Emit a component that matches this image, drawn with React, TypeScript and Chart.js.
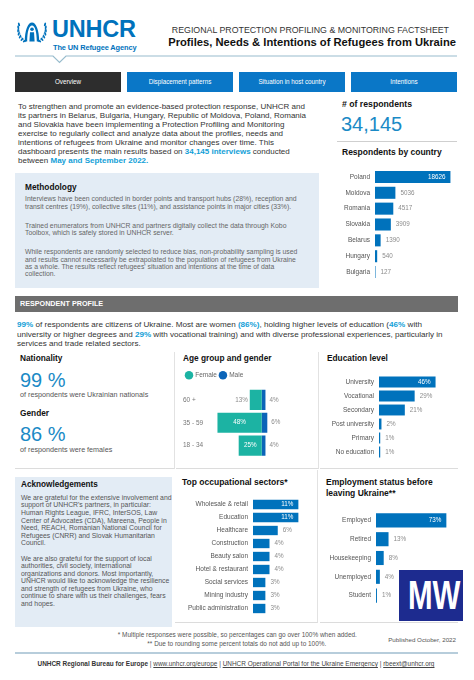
import React, { useEffect, useRef } from "react";
import { Chart, registerables } from "chart.js";
Chart.register(...registerables);

const FONT = '"Liberation Sans", Arial, Helvetica, sans-serif';
const BLUE = "#0072BC";
const TEAL_TXT = "#1a8ac6";
const HILITE = "#12a0d7";

// ---------- data ----------
const countryLabels = ["Poland", "Moldova", "Romania", "Slovakia", "Belarus", "Hungary", "Bulgaria"];
const countryValues = [18626, 5036, 4517, 3909, 1390, 540, 127];

const ageGroups = ["60 +", "35 - 59", "18 - 34"];
const femaleShare = [13, 48, 25];
const maleShare = [4, 6, 4];

const educationLabels = ["University", "Vocational", "Secondary", "Post university", "Primary", "No education"];
const educationValues = [46, 29, 21, 2, 1, 1];

const sectorLabels = [
  "Wholesale & retail",
  "Education",
  "Healthcare",
  "Construction",
  "Beauty salon",
  "Hotel & restaurant",
  "Social services",
  "Mining industry",
  "Public administration",
];
const sectorValues = [11, 11, 6, 4, 4, 4, 3, 3, 3];

const employmentLabels = ["Employed", "Retired", "Housekeeping", "Unemployed", "Student"];
const employmentValues = [73, 13, 8, 4, 1];

const navItems = ["Overview", "Displacement patterns", "Situation in host country", "Intentions"];

// ---------- charts ----------
type HBarProps = {
  labels: string[];
  values: number[];
  max: number;
  axisW: number;
  left: number;
  top: number;
  width: number;
  height: number;
  barPct: number;
  insideMin: number;
  suffix: string;
};

function HBar(p: HBarProps) {
  const ref = useRef<HTMLCanvasElement>(null);
  useEffect(() => {
    const valuePlugin = {
      id: "valueLabels",
      afterDatasetsDraw(chart: any) {
        const ctx = chart.ctx;
        const meta = chart.getDatasetMeta(0);
        ctx.save();
        ctx.font = `6.3px ${FONT}`;
        ctx.textBaseline = "middle";
        meta.data.forEach((bar: any, i: number) => {
          const v = p.values[i];
          const txt = String(v) + p.suffix;
          if (v >= p.insideMin) {
            ctx.fillStyle = "#ffffff";
            ctx.textAlign = "right";
            ctx.fillText(txt, bar.x - 5, bar.y);
          } else {
            ctx.fillStyle = "#8c8c8c";
            ctx.textAlign = "left";
            ctx.fillText(txt, bar.x + 5, bar.y);
          }
        });
        ctx.restore();
      },
    };
    const chart = new Chart(ref.current as HTMLCanvasElement, {
      type: "bar",
      data: {
        labels: p.labels,
        datasets: [
          {
            data: p.values,
            backgroundColor: BLUE,
            borderWidth: 0,
            barPercentage: p.barPct,
            categoryPercentage: 1,
          },
        ],
      },
      options: {
        indexAxis: "y",
        responsive: false,
        maintainAspectRatio: false,
        animation: false,
        layout: { padding: 0 },
        plugins: { legend: { display: false }, tooltip: { enabled: false } },
        scales: {
          x: { display: false, min: 0, max: p.max },
          y: {
            grid: { display: false, drawTicks: false },
            border: { display: false },
            ticks: { padding: 5, autoSkip: false, color: "#555", font: { family: FONT, size: 6.5 } },
            afterFit: (s: any) => {
              s.width = p.axisW;
              s.paddingTop = 0;
              s.paddingBottom = 0;
            },
          },
        },
      },
      plugins: [valuePlugin],
    } as any);
    return () => chart.destroy();
  }, []);
  return (
    <canvas
      ref={ref}
      width={p.width}
      height={p.height}
      style={{ position: "absolute", left: p.left, top: p.top, width: p.width, height: p.height }}
    />
  );
}

function AgeChart() {
  const ref = useRef<HTMLCanvasElement>(null);
  useEffect(() => {
    const labelPlugin = {
      id: "ageLabels",
      afterDatasetsDraw(chart: any) {
        const ctx = chart.ctx;
        ctx.save();
        ctx.font = `6.3px ${FONT}`;
        ctx.textBaseline = "middle";
        chart.getDatasetMeta(0).data.forEach((bar: any, i: number) => {
          const v = femaleShare[i];
          if (v >= 20) {
            ctx.fillStyle = "#ffffff";
            ctx.textAlign = "center";
            ctx.fillText(v + "%", (bar.x + bar.base) / 2, bar.y);
          } else {
            ctx.fillStyle = "#8c8c8c";
            ctx.textAlign = "right";
            ctx.fillText(v + "%", bar.x - 2, bar.y);
          }
        });
        chart.getDatasetMeta(1).data.forEach((bar: any, i: number) => {
          ctx.fillStyle = "#8c8c8c";
          ctx.textAlign = "left";
          ctx.fillText(maleShare[i] + "%", bar.x + 4, bar.y);
        });
        ctx.restore();
      },
    };
    const chart = new Chart(ref.current as HTMLCanvasElement, {
      type: "bar",
      data: {
        labels: ageGroups,
        datasets: [
          {
            label: "Female",
            data: femaleShare.map((v) => -v),
            backgroundColor: "#1cb3a3",
            borderWidth: 0,
            barPercentage: 0.88,
            categoryPercentage: 1,
          },
          {
            label: "Male",
            data: maleShare,
            backgroundColor: "#0b64b8",
            borderWidth: 0,
            barPercentage: 0.88,
            categoryPercentage: 1,
          },
        ],
      },
      options: {
        indexAxis: "y",
        responsive: false,
        maintainAspectRatio: false,
        animation: false,
        layout: { padding: 0 },
        plugins: {
          tooltip: { enabled: false },
          legend: {
            display: true,
            position: "top",
            align: "start",
            labels: {
              usePointStyle: true,
              pointStyle: "circle",
              boxWidth: 6,
              boxHeight: 6,
              padding: 3,
              color: "#666",
              font: { family: FONT, size: 6.5 },
            },
          },
        },
        scales: {
          x: { display: false, stacked: true, min: -55, max: 62 },
          y: {
            stacked: true,
            grid: { display: false, drawTicks: false },
            border: { display: false },
            ticks: { crossAlign: "far", padding: 0, color: "#777", font: { family: FONT, size: 6.5 } },
            afterFit: (s: any) => {
              s.width = 28;
              s.paddingTop = 0;
              s.paddingBottom = 0;
            },
          },
        },
      },
      plugins: [labelPlugin],
    } as any);
    return () => chart.destroy();
  }, []);
  return (
    <canvas
      ref={ref}
      width={136}
      height={88}
      style={{ position: "absolute", left: 183, top: 369, width: 136, height: 88 }}
    />
  );
}

// ---------- text helpers ----------
type TxtProps = {
  x?: number;
  right?: number;
  cx?: number;
  cy: number;
  size: number;
  bold?: boolean;
  color?: string;
  children: React.ReactNode;
  style?: React.CSSProperties;
};

function Txt({ x, right, cx, cy, size, bold, color, children, style }: TxtProps) {
  const s: React.CSSProperties = {
    position: "absolute",
    top: cy - size * 0.52,
    fontSize: size,
    lineHeight: `${size}px`,
    fontWeight: bold ? 700 : 400,
    color: color || "#333",
    whiteSpace: "nowrap",
    fontFamily: FONT,
    ...style,
  };
  if (cx !== undefined) {
    s.left = cx - 250;
    s.width = 500;
    s.textAlign = "center";
  } else if (right !== undefined) {
    s.right = 474 - right;
    s.textAlign = "right";
  } else {
    s.left = x;
  }
  return <div style={s}>{children}</div>;
}

function Lines({
  x,
  cy0,
  lineH,
  size,
  color,
  lines,
}: {
  x: number;
  cy0: number;
  lineH: number;
  size: number;
  color: string;
  lines: React.ReactNode[];
}) {
  return (
    <div
      style={{
        position: "absolute",
        left: x,
        top: cy0 - lineH / 2,
        fontSize: size,
        lineHeight: `${lineH}px`,
        color,
        fontFamily: FONT,
        whiteSpace: "nowrap",
      }}
    >
      {lines.map((l, i) => (
        <div key={i} style={{ height: lineH }}>
          {l}
        </div>
      ))}
    </div>
  );
}

const H = ({ children }: { children: React.ReactNode }) => (
  <span style={{ color: HILITE, fontWeight: 700 }}>{children}</span>
);

function Logo() {
  const leaves: [number, number, number][] = [
    [9.5, 21, -35],
    [7, 19.3, -48],
    [5, 16.8, -62],
    [3.7, 13.8, -74],
    [3.1, 10.6, -86],
    [3.2, 7.4, -98],
    [4, 4.4, -112],
  ];
  const branch = (
    <g fill={BLUE}>
      <path d="M11 22 Q3 17 3.5 3" stroke={BLUE} strokeWidth={0.6} fill="none" />
      {leaves.map(([lx, ly, r], i) => (
        <ellipse key={i} cx={lx} cy={ly} rx={1.9} ry={0.9} transform={`rotate(${r} ${lx} ${ly})`} />
      ))}
    </g>
  );
  return (
    <svg width={34} height={24} viewBox="0 0 34 24" style={{ position: "absolute", left: 15, top: 20 }}>
      {branch}
      <g transform="translate(34,0) scale(-1,1)">{branch}</g>
      <path
        d="M9.8 21.5 C9.8 10 13 2.5 17 2.5 C21 2.5 24.2 10 24.2 21.5 L21.8 21.5 C21.8 12 20 5.4 17 5.4 C14 5.4 12.2 12 12.2 21.5 Z"
        fill={BLUE}
      />
      <circle cx={17} cy={9.3} r={1.8} fill={BLUE} />
      <path d="M15 12.2 L19 12.2 L19.6 21.5 L14.4 21.5 Z" fill={BLUE} />
    </svg>
  );
}

export default function App() {
  useEffect(() => {
    document.body.style.margin = "0";
  }, []);

  const card = (left: number, top: number, w: number, h: number, right: boolean): React.CSSProperties => ({
    position: "absolute",
    left,
    top,
    width: w,
    height: h,
    borderBottom: "1px solid #dcdcdc",
    borderRight: right ? "1px solid #e2e2e2" : "none",
    boxSizing: "border-box",
  });

  return (
    <div
      style={{
        position: "absolute",
        left: 0,
        top: 0,
        width: 474,
        height: 680,
        background: "#ffffff",
        overflow: "hidden",
        fontFamily: FONT,
      }}
    >
      {/* Header */}
      <Logo />
      <Txt x={52} cy={30.5} size={23.5} bold color={BLUE} style={{ letterSpacing: -0.2 }}>
        UNHCR
      </Txt>
      <Txt x={53} cy={48} size={7.4} bold color={BLUE} style={{ letterSpacing: -0.1 }}>
        The UN Refugee Agency
      </Txt>
      <Txt right={449} cy={31} size={8.8} color="#333">
        REGIONAL PROTECTION PROFILING &amp; MONITORING FACTSHEET
      </Txt>
      <Txt right={456} cy={43} size={11.2} bold color="#111">
        Profiles, Needs &amp; Intentions of Refugees from Ukraine
      </Txt>
      <svg width={474} height={70} style={{ position: "absolute", left: 0, top: 0 }}>
        <polyline
          points="15,56 53,56 59.5,62.5 66,56 457,56"
          fill="none"
          stroke="#98bccd"
          strokeWidth={1.2}
        />
      </svg>

      {/* Nav */}
      {navItems.map((t, i) => {
        const lefts = [15, 127, 239, 351];
        return (
          <div
            key={t}
            style={{
              position: "absolute",
              left: lefts[i],
              top: 72,
              width: 106,
              height: 20,
              background: i === 0 ? "#2d2d2d" : "#0a77c7",
              color: "#fff",
              fontSize: 6.3,
              lineHeight: "20px",
              textAlign: "center",
              fontFamily: FONT,
            }}
          >
            {t}
          </div>
        );
      })}

      {/* Intro */}
      <Lines
        x={18}
        cy0={106.7}
        lineH={9}
        size={8}
        color="#333"
        lines={[
          "To strengthen and promote an evidence-based protection response, UNHCR and",
          "its partners in Belarus, Bulgaria, Hungary, Republic of Moldova, Poland, Romania",
          "and Slovakia have been implementing a Protection Profiling and Monitoring",
          "exercise to regularly collect and analyze data about the profiles, needs and",
          "intentions of refugees from Ukraine and monitor changes over time. This",
          <>
            dashboard presents the main results based on <H>34,145 interviews</H> conducted
          </>,
          <>
            between <H>May and September 2022.</H>
          </>,
        ]}
      />

      {/* Methodology */}
      <div style={{ position: "absolute", left: 15, top: 173, width: 304, height: 115, background: "#e3ecf5" }} />
      <Txt x={25} cy={187.7} size={8.3} bold color="#111">
        Methodology
      </Txt>
      <Lines
        x={25}
        cy0={199}
        lineH={7.3}
        size={6.85}
        color="#666"
        lines={[
          "Interviews have been conducted in border points and transport hubs (28%), reception and",
          "transit centres (19%), collective sites (11%), and assistance points in major cities (33%).",
        ]}
      />
      <Lines
        x={25}
        cy0={225.3}
        lineH={7.3}
        size={6.85}
        color="#666"
        lines={[
          "Trained enumerators from UNHCR and partners digitally collect the data through Kobo",
          "Toolbox, which is safely stored in UNHCR server.",
        ]}
      />
      <Lines
        x={25}
        cy0={252}
        lineH={7.3}
        size={6.85}
        color="#666"
        lines={[
          "While respondents are randomly selected to reduce bias, non-probability sampling is used",
          "and results cannot necessarily be extrapolated to the population of refugees from Ukraine",
          "as a whole. The results reflect refugees' situation and intentions at the time of data",
          "collection.",
        ]}
      />

      {/* Right column */}
      <Txt x={342} cy={105} size={8.7} bold color="#111">
        # of respondents
      </Txt>
      <Txt x={341} cy={124} size={20} color={TEAL_TXT}>
        34,145
      </Txt>
      <div style={{ position: "absolute", left: 337, top: 141, width: 120, height: 1, background: "#cfcfcf" }} />
      <Txt x={342} cy={152.3} size={8.5} bold color="#111">
        Respondents by country
      </Txt>
      <HBar
        labels={countryLabels}
        values={countryValues}
        max={20000}
        axisW={40}
        left={335}
        top={169}
        width={121}
        height={111}
        barPct={0.76}
        insideMin={10000}
        suffix=""
      />

      {/* Respondent profile */}
      <div style={{ position: "absolute", left: 15, top: 296, width: 443, height: 16, background: "#6e6e6e" }} />
      <Txt x={20} cy={304} size={7.2} bold color="#fff">
        RESPONDENT PROFILE
      </Txt>
      <Lines
        x={17}
        cy0={325}
        lineH={9.5}
        size={8.1}
        color="#333"
        lines={[
          <>
            <H>99%</H> of respondents are citizens of Ukraine. Most are women <H>(86%)</H>, holding higher levels of
            education (<H>46%</H> with
          </>,
          <>
            university or higher degrees and <H>29%</H> with vocational training) and with diverse professional
            experiences, particularly in
          </>,
          "services and trade related sectors.",
        ]}
      />

      <div style={card(15, 352, 160, 117, true)} />
      <div style={card(176, 352, 143, 117, true)} />
      <div style={card(320, 352, 138, 117, false)} />

      <Txt x={20} cy={358} size={8.3} bold color="#111">
        Nationality
      </Txt>
      <Txt x={183} cy={358} size={8.3} bold color="#111">
        Age group and gender
      </Txt>
      <Txt x={327} cy={358} size={8.3} bold color="#111">
        Education level
      </Txt>

      <Txt x={20} cy={380} size={20} color={TEAL_TXT}>
        99 %
      </Txt>
      <Txt x={20} cy={395} size={7.2} color="#555">
        of respondents were Ukrainian nationals
      </Txt>
      <Txt x={20} cy={413} size={8.3} bold color="#111">
        Gender
      </Txt>
      <Txt x={20} cy={434} size={20} color={TEAL_TXT}>
        86 %
      </Txt>
      <Txt x={20} cy={449.3} size={7.2} color="#555">
        of respondents were females
      </Txt>

      <AgeChart />

      <HBar
        labels={educationLabels}
        values={educationValues}
        max={61}
        axisW={55}
        left={324}
        top={374.5}
        width={130}
        height={84}
        barPct={0.78}
        insideMin={40}
        suffix="%"
      />

      {/* Bottom row */}
      <div style={{ position: "absolute", left: 15, top: 477, width: 157, height: 150, background: "#e3ecf5" }} />
      <Txt x={21} cy={485} size={8.2} bold color="#111">
        Acknowledgements
      </Txt>
      <Lines
        x={21}
        cy0={497.7}
        lineH={7.6}
        size={6.85}
        color="#555"
        lines={[
          "We are grateful for the extensive involvement and",
          "support of UNHCR's partners, in particular:",
          "Human Rights League, IFRC, InterSOS, Law",
          "Center of Advocates (CDA), Mareena, People in",
          "Need, REACH, Romanian National Council for",
          "Refugees (CNRR) and Slovak Humanitarian",
          "Council.",
        ]}
      />
      <Lines
        x={21}
        cy0={558.3}
        lineH={7.6}
        size={6.85}
        color="#555"
        lines={[
          "We are also grateful for the support of local",
          "authorities, civil society, international",
          "organizations and donors. Most importantly,",
          "UNHCR would like to acknowledge the resilience",
          "and strength of refugees from Ukraine, who",
          "continue to share with us their challenges, fears",
          "and hopes.",
        ]}
      />

      <div style={card(175, 470, 143, 153, true)} />
      <div style={card(320, 470, 138, 153, false)} />

      <Txt x={182} cy={482} size={8.5} bold color="#111">
        Top occupational sectors*
      </Txt>
      <HBar
        labels={sectorLabels}
        values={sectorValues}
        max={16}
        axisW={70}
        left={183}
        top={498}
        width={136}
        height={117}
        barPct={0.72}
        insideMin={10}
        suffix="%"
      />

      <Txt x={326} cy={482} size={8.5} bold color="#111">
        Employment status before
      </Txt>
      <Txt x={326} cy={493.5} size={8.5} bold color="#111">
        leaving Ukraine**
      </Txt>
      <HBar
        labels={employmentLabels}
        values={employmentValues}
        max={83}
        axisW={50}
        left={326}
        top={511}
        width={130}
        height={94}
        barPct={0.75}
        insideMin={50}
        suffix="%"
      />

      {/* Watermark */}
      <div
        style={{
          position: "absolute",
          left: 399,
          top: 570,
          width: 64,
          height: 51,
          background: "#1d2b8f",
          overflow: "hidden",
        }}
      >
        <div
          style={{
            position: "absolute",
            left: 0,
            top: 2,
            width: 64,
            textAlign: "center",
            color: "#fff",
            fontFamily: FONT,
            fontWeight: 700,
            fontSize: 41,
            lineHeight: "47px",
            transform: "scaleX(0.72)",
          }}
        >
          MW
        </div>
      </div>

      {/* Footnotes */}
      <Txt cx={237.3} cy={635} size={6.45} color="#555">
        * Multiple responses were possible, so percentages can go over 100% when added.
      </Txt>
      <Txt cx={236.8} cy={644} size={6.45} color="#555">
        ** Due to rounding some percent totals do not add up to 100%.
      </Txt>
      <Txt right={456} cy={640.7} size={6.2} color="#555">
        Published October, 2022
      </Txt>
      <div style={{ position: "absolute", left: 15, top: 652, width: 443, height: 1.5, background: "#b7cddb" }} />
      <Txt cx={236} cy={664.3} size={6.45} color="#444">
        <b style={{ color: "#333" }}>UNHCR Regional Bureau for Europe</b> |{" "}
        <span style={{ textDecoration: "underline" }}>www.unhcr.org/europe</span> |{" "}
        <span style={{ textDecoration: "underline" }}>UNHCR Operational Portal for the Ukraine Emergency</span> |{" "}
        <span style={{ textDecoration: "underline" }}>rbeext@unhcr.org</span>
      </Txt>
    </div>
  );
}
